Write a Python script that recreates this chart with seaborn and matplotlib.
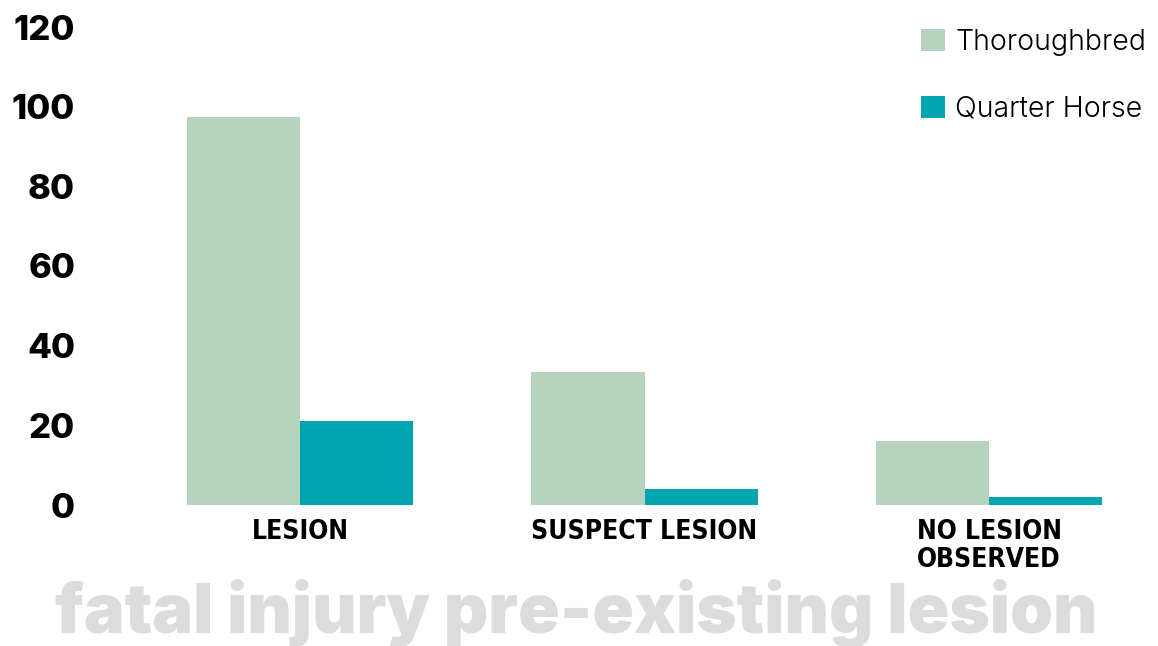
import pandas as pd
import matplotlib
matplotlib.use("Agg")
import matplotlib.pyplot as plt
import seaborn as sns

# values
categories = ["LESION", "SUSPECT LESION", "NO LESION\nOBSERVED"]
thoroughbred = [97.5, 33.5, 16]
quarter_horse = [21, 4, 2]
breeds = ["Thoroughbred", "Quarter Horse"]
y_ticks = [0, 20, 40, 60, 80, 100, 120]

df = pd.DataFrame({
    "category": categories * 2,
    "breed": [breeds[0]] * 3 + [breeds[1]] * 3,
    "count": thoroughbred + quarter_horse,
})

sns.set_style("white")
plt.rcParams["font.family"] = ["Inter", "DejaVu Sans"]

fig = plt.figure(figsize=(11.58, 6.46), dpi=100)
ax = fig.add_axes([100 / 1158, 141 / 646, 1058 / 1158, 478 / 646])

sns.barplot(data=df, x="category", y="count", hue="breed",
            palette=["#b5d3bd", "#00a5b1"], width=0.656,
            saturation=1, ax=ax, legend=True, linewidth=0)

ax.set_ylim(0, 120)
ax.set_xlim(-0.58, 2.49)
ax.set_yticks(y_ticks)
ax.set_yticklabels([str(t) for t in y_ticks], fontsize=25, fontweight=800)
ax.set_xlabel("")
ax.set_ylabel("")
ax.tick_params(axis="y", length=0, pad=18, labelcolor="black")
ax.tick_params(axis="x", length=0, pad=10, labelcolor="black")
for lab in ax.get_xticklabels():
    lab.set_family("DejaVu Sans")
    lab.set_fontstretch("condensed")
    lab.set_fontweight("bold")
    lab.set_fontsize(19)
    lab.set_linespacing(1.1)
sns.despine(ax=ax, left=True, bottom=True)

leg = ax.legend(loc="upper right", bbox_to_anchor=(1.013, 1.05), frameon=False,
                fontsize=20.5, handlelength=0.85, handleheight=0.8,
                handletextpad=0.35, labelspacing=1.4)
for t in leg.get_texts():
    t.set_fontweight(300)
    t.set_color("black")

fig.text(55 / 1158, 13 / 646, "fatal injury pre-existing lesion",
         fontsize=49.5, fontweight=900, color="#dcdcdc", va="baseline")

fig.savefig("out.png", dpi=100)
